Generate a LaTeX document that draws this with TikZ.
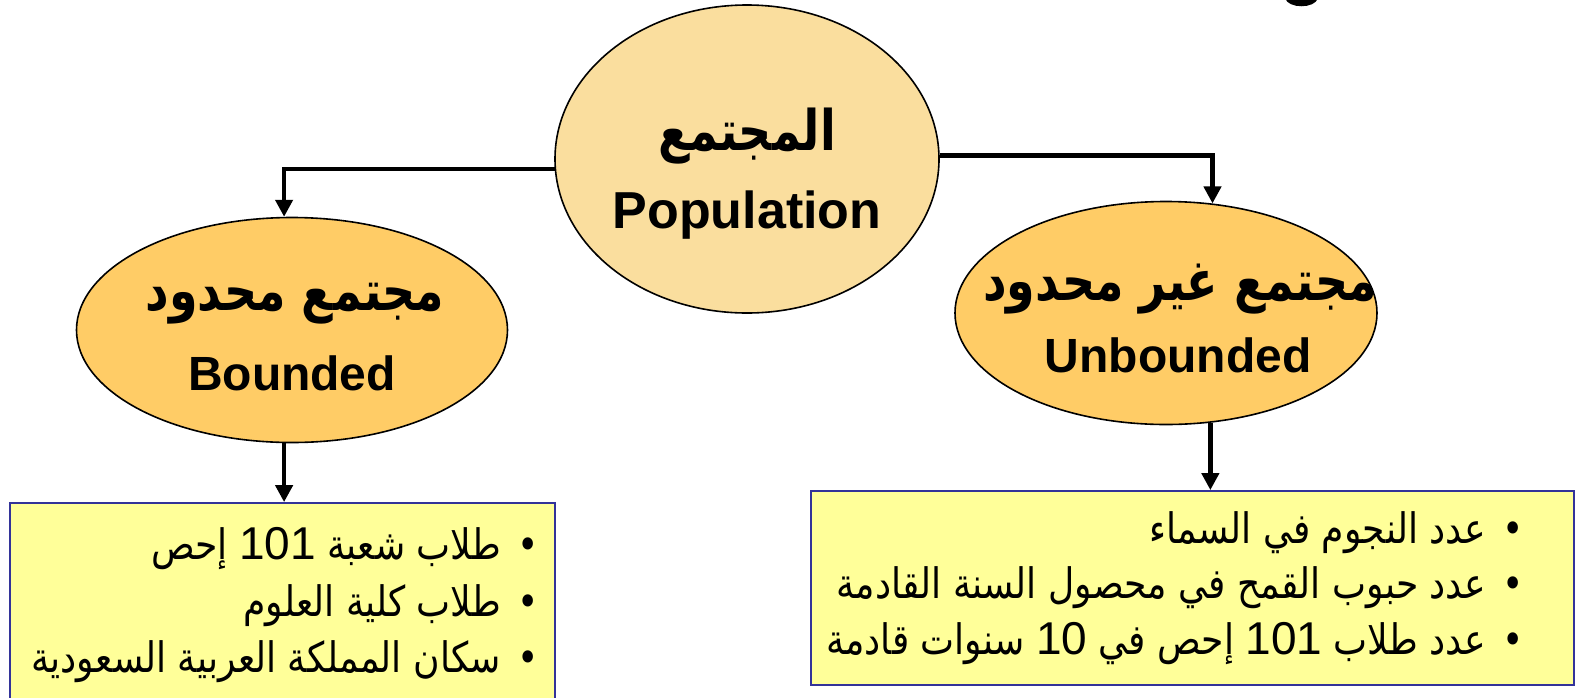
\documentclass[tikz,border=0pt]{standalone}
\usepackage{fontspec}
\setmainfont{Liberation Sans}
\newfontfamily\arabicfont[Script=Arabic,FakeStretch=0.86]{DejaVu Sans}
\newfontfamily\arabichead[Script=Arabic,FakeStretch=0.82]{DejaVu Sans}
\TeXXeTstate=1
\usetikzlibrary{arrows.meta,shapes.geometric}
\definecolor{popfill}{RGB}{250,222,158}
\definecolor{subfill}{RGB}{255,204,102}
\definecolor{listfill}{RGB}{255,255,153}
\definecolor{listline}{RGB}{51,51,153}
\newcommand\lnum[1]{\beginL{\rmfamily\fontsize{23}{24}\selectfont #1}\endL{}}

\begin{document}
\begin{tikzpicture}[x=0.5pt, y=-0.5pt, conn/.style={-{Triangle[width=8.5pt,length=8.5pt]}, line width=2.3pt}, main node/.style={ellipse,draw,line width=0.8pt,inner sep=0pt}, list box/.style={rectangle,draw=listline,line width=0.9pt,fill=listfill,inner sep=0pt}, ar head/.style={inner sep=0pt,font=\arabichead\bfseries\fontsize{28}{30}\selectfont}, en head/.style={inner sep=0pt,font=\bfseries\fontsize{24}{28}\selectfont}, item/.style={anchor=east,inner sep=0pt,font=\arabicfont\fontsize{21}{24}\selectfont}]

\useasboundingbox (0,0) rectangle (1585,697);

\node[main node, fill=popfill, minimum width=192pt, minimum height=154pt](pop) at (747,159) {};
\node[main node, fill=subfill, minimum width=215.5pt, minimum height=112.5pt](bound) at (292,330) {};
\node[main node, fill=subfill, minimum width=211pt, minimum height=111.5pt](unbound) at (1166,313) {};

\node[ar head](popar) at (747,136) {\beginR المجتمع\endR};
\node[en head, font=\bfseries\fontsize{26}{30}\selectfont](popen) at (747,215) {Population};
\node[ar head](boundar) at (295,304) {\beginR مجتمع محدود\endR};
\node[en head](bounden) at (292,373) {Bounded};
\node[ar head](unboundar) at (1180,289) {\beginR مجتمع غير محدود\endR};
\node[en head](unbounden) at (1178,355) {Unbounded};

\node[list box, minimum width=272.5pt, minimum height=113.5pt](lbox) at (282.5,616.5) {};
\node[list box, minimum width=381.5pt, minimum height=97pt](rbox) at (1192.5,588) {};

\node[item](l1) at (539,549) {\beginR •\hspace{8pt}طلاب شعبة \lnum{101} إحص\endR};
\node[item](l2) at (539,606) {\beginR •\hspace{8pt}طلاب كلية العلوم\endR};
\node[item](l3) at (539,662) {\beginR •\hspace{8pt}سكان المملكة العربية السعودية\endR};
\node[item](r1) at (1524,533) {\beginR •\hspace{8pt}عدد النجوم في السماء\endR};
\node[item](r2) at (1524,588) {\beginR •\hspace{8pt}عدد حبوب القمح في محصول السنة القادمة\endR};
\node[item](r3) at (1524,644) {\beginR •\hspace{8pt}عدد طلاب \lnum{101} إحص في \lnum{10} سنوات قادمة\endR};

\draw[conn] (pop.183) -| (bound.94);
\draw[conn] (pop.1.5) -| (unbound.67.5);
\draw[conn] (bound.266) -- (bound.266 |- lbox.north);
\draw[conn] (unbound.292.5) -- (unbound.292.5 |- rbox.north);

\fill (1285,-2) .. controls (1288,9) and (1315,9) .. (1318,-2) -- cycle;

\end{tikzpicture}
\end{document}
